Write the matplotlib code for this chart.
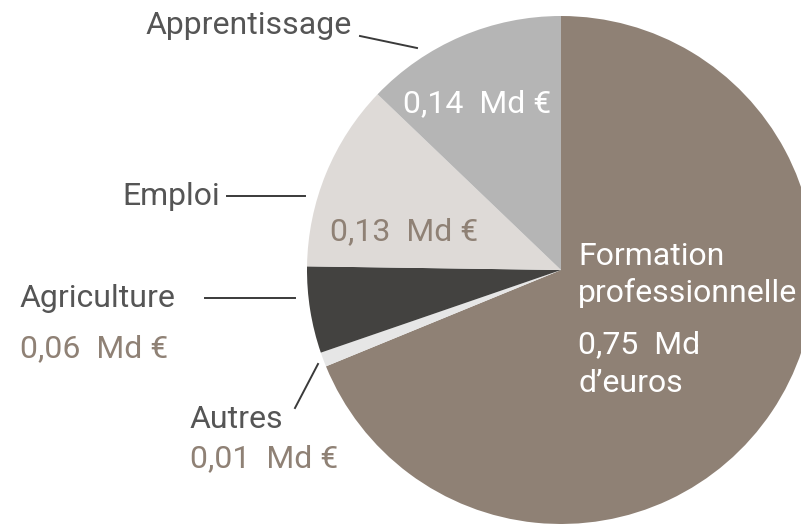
import matplotlib
matplotlib.use("Agg")
import matplotlib.pyplot as plt

# Données (milliards d'euros)
categories = ["Formation professionnelle", "Autres", "Agriculture", "Emploi", "Apprentissage"]
valeurs = [0.75, 0.01, 0.06, 0.13, 0.14]
etiquettes_valeur = ["0,75  Md", "0,01  Md \u20ac", "0,06  Md \u20ac",
                     "0,13  Md \u20ac", "0,14  Md \u20ac"]

couleurs = ["#8f8175", "#e6e6e6", "#434240", "#dedad7", "#b5b5b5"]
BRUN = "#8f8175"
GRIS_TEXTE = "#555555"

plt.rcParams['font.family'] = ['Roboto', 'DejaVu Sans']

W, H = 801, 524
fig = plt.figure(figsize=(W / 100, H / 100), dpi=100)

# centre du camembert (561, 270) px, rayon 254 px
cx, cy, r = 561, 270, 254
ax = fig.add_axes([(cx - r) / W, (H - cy - r) / H, 2 * r / W, 2 * r / H])
ax.pie(valeurs, colors=couleurs, startangle=90, counterclock=False,
       wedgeprops=dict(linewidth=0))
ax.set_xlim(-1, 1)
ax.set_ylim(-1, 1)
ax.set_aspect("equal")
ax.axis("off")


def texte(x, y, s, color, size=23, weight="normal"):
    # y = ligne de base en pixels depuis le haut
    fig.text(x / W, 1 - y / H, s, color=color, fontsize=size,
             fontweight=weight, ha="left", va="baseline")


def trait(x0, y0, x1, y1):
    fig.add_artist(plt.Line2D([x0 / W, x1 / W], [1 - y0 / H, 1 - y1 / H],
                              color="#3a3a3a", lw=1.4, transform=fig.transFigure))


# noms des catégories
texte(145, 34, categories[4], GRIS_TEXTE)
trait(360, 36, 417, 48)
texte(122, 205, categories[3], GRIS_TEXTE)
trait(227, 196, 305, 196)
texte(20, 307, categories[2], GRIS_TEXTE)
trait(205, 298, 295, 298)
texte(190, 428, categories[1], GRIS_TEXTE)
trait(295, 408, 318, 364)
texte(578, 265, "Formation", "white")
texte(578, 302, "professionnelle", "white")

# valeurs
texte(403, 112, etiquettes_valeur[4], "white")
texte(330, 240, etiquettes_valeur[3], BRUN)
texte(20, 357, etiquettes_valeur[2], BRUN)
texte(190, 467, etiquettes_valeur[1], BRUN)
texte(578, 353, etiquettes_valeur[0], "white")
texte(578, 392, "d\u2019euros", "white")

fig.savefig("out.png", dpi=100)
